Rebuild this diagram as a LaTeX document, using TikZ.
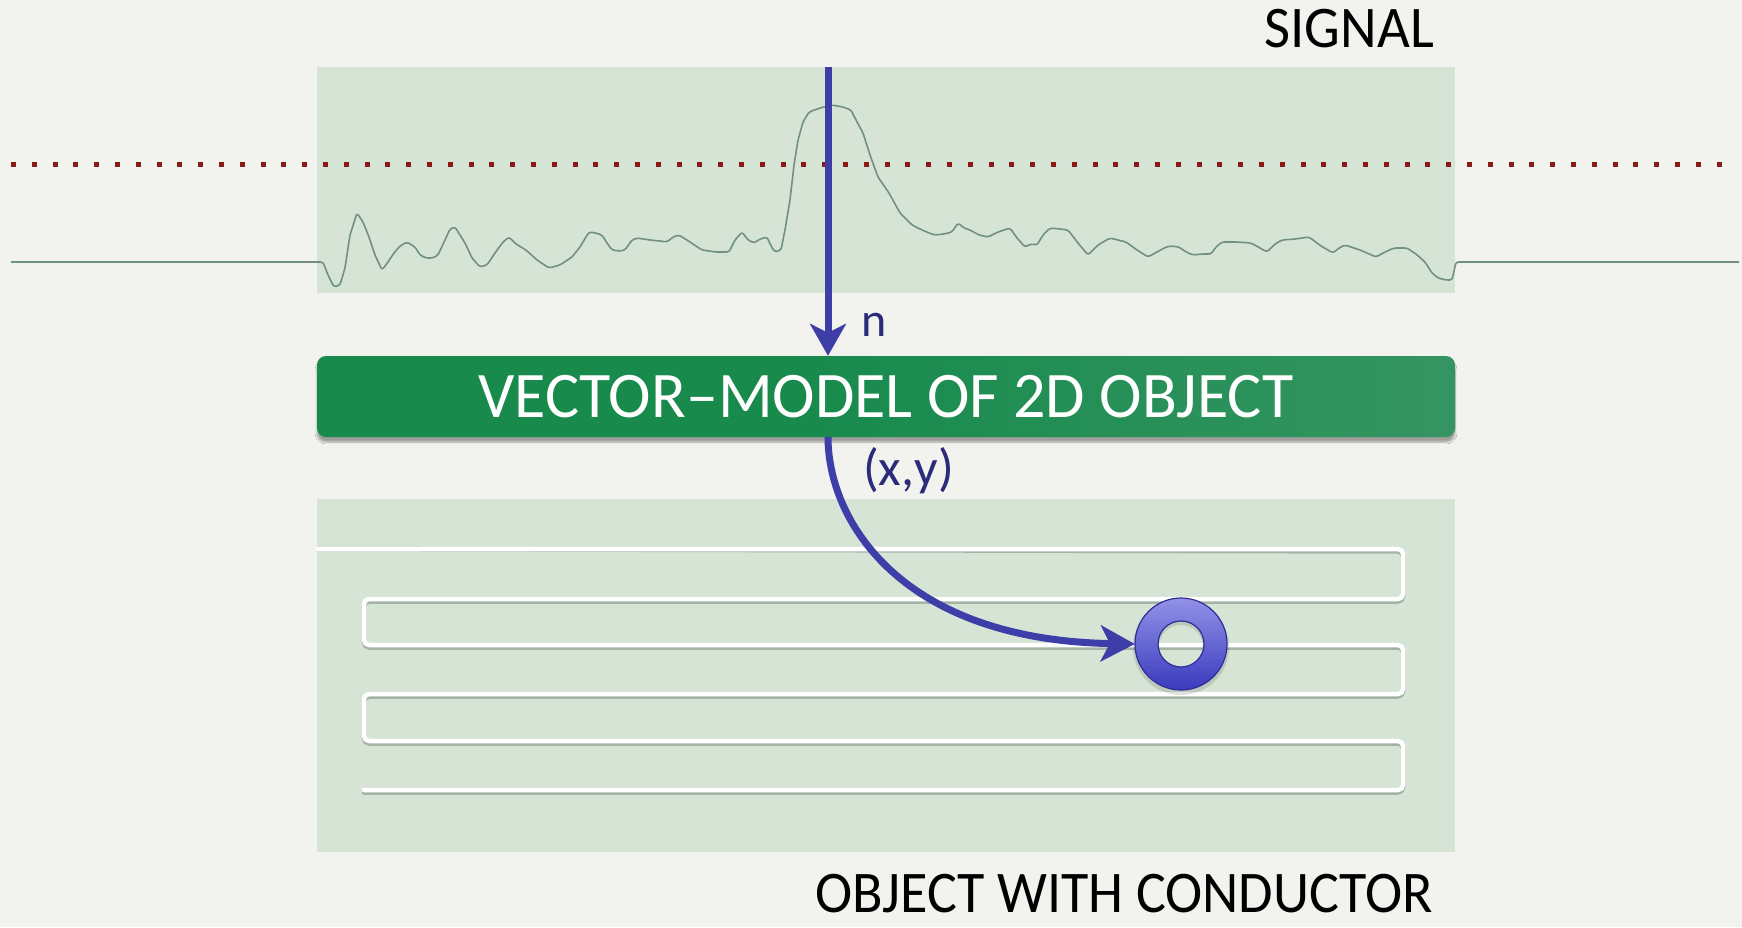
\documentclass[tikz,border=0pt]{standalone}
\usepackage{fontspec}
\setmainfont{Carlito}
\usetikzlibrary{arrows.meta,shadows.blur}
\definecolor{bg}{HTML}{F2F2EE}
\definecolor{panel}{HTML}{D6E4D6}
\definecolor{trace}{HTML}{71907F}
\definecolor{reddot}{HTML}{8B1A1A}
\definecolor{arrowblue}{HTML}{3E3EA8}
\definecolor{labelblue}{HTML}{2B2B7A}
\definecolor{gA}{HTML}{178A4C}
\definecolor{gB}{HTML}{3A9766}
\definecolor{gC}{HTML}{7AAB91}
\definecolor{ringtop}{HTML}{9292E8}
\definecolor{ringbot}{HTML}{3A3ABE}
\definecolor{ringedge}{HTML}{2E2E94}
\definecolor{wireshadow}{HTML}{97A899}
\pgfdeclarehorizontalshading{boxshade}{100bp}{color(0bp)=(gA); color(46bp)=(gA); color(80bp)=(gB); color(100bp)=(gC)}
\tikzset{
  panelbox/.style={fill=panel, draw=none},
  caption/.style={font=\fontsize{59}{60}\selectfont, text=black, inner sep=0pt},
  varlabel/.style={text=labelblue, inner sep=0pt},
  flowarrow/.style={draw=arrowblue, line width=7pt, -{Stealth[length=32pt,width=36pt,inset=9pt]}},
  wire/.style={line width=4.5pt, rounded corners=5pt, line cap=round, line join=round},
}
\begin{document}
\begin{tikzpicture}[x=1pt,y=-1pt]
\useasboundingbox (0,0) rectangle (1742,927);
\fill[bg] (0,0) rectangle (1742,927);
% panels
\node[panelbox, anchor=north west, minimum width=1138pt, minimum height=226pt, inner sep=0pt] (sigpanel) at (317,67) {};
\node[panelbox, anchor=north west, minimum width=1138pt, minimum height=353pt, inner sep=0pt] (objpanel) at (317,499) {};
% threshold
\draw[reddot, line width=5pt, dash pattern=on 5pt off 15.8pt] (11,164) -- (1724,164);
% signal trace
\draw[trace, line width=1.6pt, line join=round, rounded corners=2.5pt] (11,262) -- (323,262) -- (328,275) -- (334,287) -- (340,285) -- (345,268) -- (350,235) -- (357,213) -- (363,222) -- (369,237) -- (375,255) -- (382,270) -- (388,262) -- (394,253) -- (400,246) -- (407,242) -- (415,247) -- (420,255) -- (426,258) -- (433,258) -- (438,255) -- (445,240) -- (450,229) -- (455,227) -- (460,235) -- (465,243) -- (472,258) -- (480,267) -- (487,265) -- (495,253) -- (503,242) -- (509,237) -- (516,244) -- (526,250) -- (537,260) -- (549,268) -- (560,265) -- (572,257) -- (580,247) -- (589,232) -- (596,233) -- (602,235) -- (607,243) -- (612,250) -- (620,251) -- (625,250) -- (632,240) -- (637,238) -- (650,240) -- (660,241) -- (667,242) -- (673,237) -- (679,235) -- (690,242) -- (702,250) -- (716,252) -- (729,252) -- (735,240) -- (742,232) -- (748,240) -- (754,243) -- (760,239) -- (767,237) -- (771,246) -- (775,252) -- (781,250) -- (785,230) -- (790,200) -- (794,165) -- (798,140) -- (803,122) -- (809,112) -- (820,108) -- (832,105) -- (843,107) -- (851,110) -- (856,120) -- (863,133) -- (870,155) -- (878,177) -- (889,193) -- (900,213) -- (912,225) -- (922,230) -- (934,235) -- (944,234) -- (952,232) -- (958,223) -- (964,228) -- (970,230) -- (979,235) -- (988,237) -- (998,232) -- (1010,228) -- (1017,238) -- (1025,247) -- (1031,244) -- (1037,245) -- (1043,235) -- (1050,228) -- (1060,229) -- (1068,230) -- (1078,243) -- (1088,255) -- (1098,245) -- (1110,238) -- (1118,240) -- (1126,242) -- (1137,250) -- (1148,257) -- (1157,252) -- (1166,247) -- (1172,246) -- (1179,247) -- (1186,252) -- (1193,255) -- (1202,254) -- (1211,254) -- (1216,247) -- (1222,242) -- (1237,242) -- (1251,243) -- (1260,248) -- (1267,252) -- (1275,244) -- (1282,240) -- (1295,239) -- (1309,237) -- (1321,246) -- (1333,253) -- (1339,248) -- (1345,245) -- (1360,250) -- (1376,257) -- (1385,252) -- (1394,248) -- (1407,248) -- (1416,254) -- (1425,262) -- (1432,273) -- (1438,278) -- (1446,280) -- (1452,280) -- (1456,262) -- (1739,262);
% model box
\node[shade, shading=boxshade, rounded corners=9pt, minimum width=1138pt, minimum height=81pt, inner sep=0pt,
      text=white, font=\fontsize{65}{65}\selectfont,
      blur shadow={shadow xshift=0pt, shadow yshift=-5pt, shadow blur steps=6, shadow opacity=35}]
      (model) at (886,396.5) {\scalebox{0.985}[1]{VECTOR\textendash MODEL OF 2D OBJECT}};
% top arrow
\coordinate (sigtop) at (828,67);
\draw[flowarrow] (sigtop) -- (model.north -| sigtop);
\node[varlabel, anchor=base west, font=\fontsize{48}{48}\selectfont] (nlab) at (861,336) {n};
% conductor wire
\coordinate (w0) at (317,549);
\draw[wire, wireshadow, opacity=0.8, yshift=-2.5pt] (w0) -- (1403,549) -- (1403,599) -- (364,599) -- (364,645) -- (1403,645) -- (1403,694) -- (364,694) -- (364,741) -- (1403,741) -- (1403,790) -- (364,790);
\draw[wire, white] (w0) -- (1403,549) -- (1403,599) -- (364,599) -- (364,645) -- (1403,645) -- (1403,694) -- (364,694) -- (364,741) -- (1403,741) -- (1403,790) -- (364,790);
% ring
\node[circle, minimum size=92pt, inner sep=0pt] (ring) at (1181,644) {};
\fill[black, opacity=0.12, even odd rule] ([yshift=-3pt]ring.center) circle[radius=48] ([yshift=-3pt]ring.center) circle[radius=22];
\shade[top color=ringtop, bottom color=ringbot, even odd rule] (ring.center) circle[radius=46] (ring.center) circle[radius=23];
\draw[ringedge, line width=1.2pt] (ring.center) circle[radius=46] (ring.center) circle[radius=23];
% curved arrow
\draw[flowarrow, -{Stealth[length=34pt,width=36pt,inset=9pt]}] (model.south -| sigtop) .. controls (828,520) and (900,640) .. (ring.west);
\node[varlabel, anchor=base west, font=\fontsize{52}{52}\selectfont] (xylab) at (863,485) {(x,y)};
% captions
\node[caption, anchor=base east] (siglab) at (1434,47) {\scalebox{0.96}[1]{SIGNAL}};
\node[caption, anchor=base east, font=\fontsize{59}{59}\selectfont] (objlab) at (1433,912) {\scalebox{0.95}[1]{OBJECT WITH CONDUCTOR}};
\end{tikzpicture}
\end{document}
